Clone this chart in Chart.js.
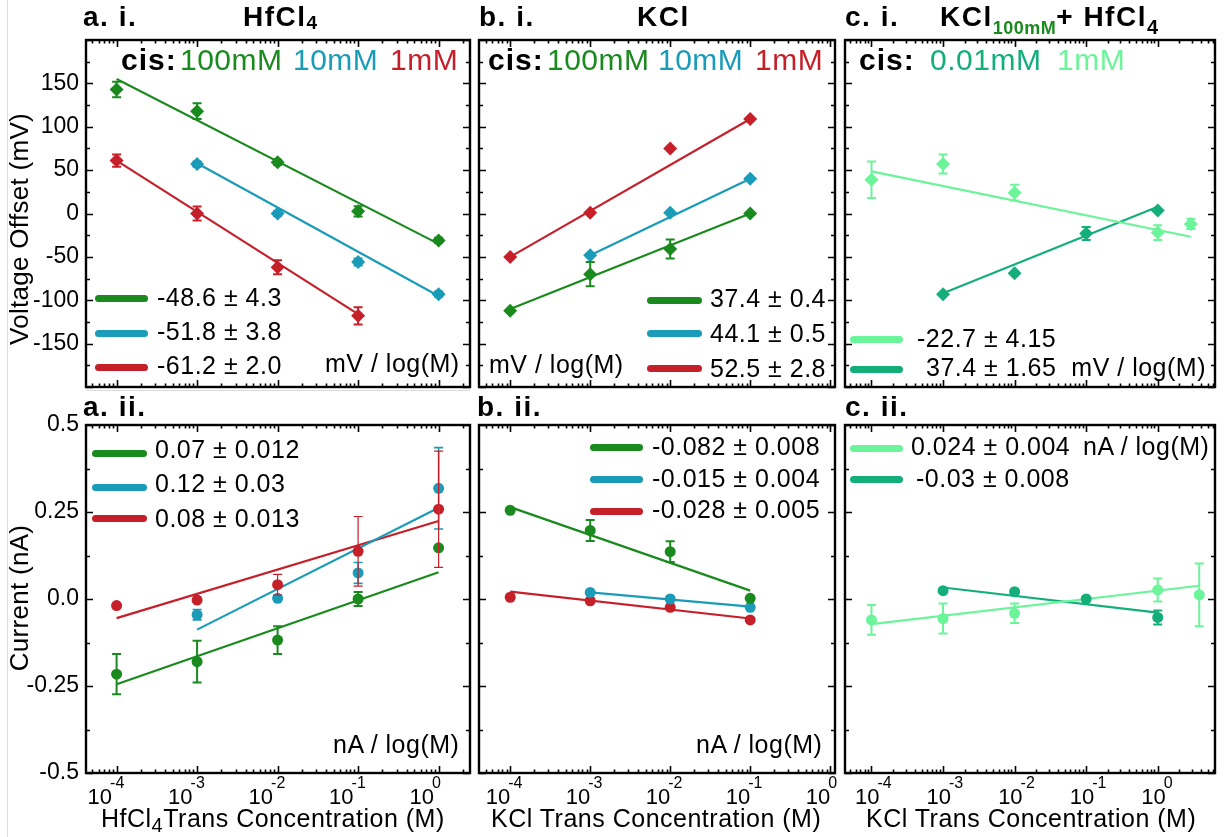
<!DOCTYPE html>
<html><head><meta charset="utf-8">
<script src="https://cdn.jsdelivr.net/npm/chart.js@4.4.1/dist/chart.umd.min.js"></script>
<style>
html,body{margin:0;padding:0;background:#fff;}
#wrap{position:relative;width:1225px;height:837px;overflow:hidden;background:#fff;font-family:"Liberation Sans",Arial,Helvetica,sans-serif;color:#000;}
canvas{position:absolute;left:0;top:0;}
.t{position:absolute;white-space:pre;line-height:1;}
.lg{position:absolute;height:7px;border-radius:4px;}
.art{position:absolute;background:#dcdcdc;}
</style></head><body><div id="wrap"></div>
<script>
// ---------------- DATA ----------------
// tick labels
const xDecades = [1e-4, 1e-3, 1e-2, 1e-1, 1];
const vTicks = [-150, -100, -50, 0, 50, 100, 150];
const vTickLabels = ['-150', '-100', '-50', '0', '50', '100', '150'];
const iTicks = [-0.5, -0.25, 0, 0.25, 0.5];
const iTickLabels = ['-0.5', '-0.25', '0.0', '0.25', '0.5'];

// a.i  HfCl4 – voltage offset (mV)
const hfConc = [1e-4, 1e-3, 1e-2, 1e-1, 1];
const hfConc10 = [1e-3, 1e-2, 1e-1, 1];
const hfConc1 = [1e-4, 1e-3, 1e-2, 1e-1];
const hfV100 = [143, 118, 59, 2.5, -31];
const hfV100Err = [9, 9, 3, 6, 3];
const hfV10 = [57, 0, -56, -93];
const hfV10Err = [3, 3, 4, 3];
const hfV1 = [61, 0, -62, -118];
const hfV1Err = [7, 8, 8, 10];
const hfV100FitX = [1e-4, 1], hfV100Fit = [155, -35];
const hfV10FitX = [1e-3, 1], hfV10Fit = [58, -95];
const hfV1FitX = [1e-4, 1e-1], hfV1Fit = [61, -116];

// b.i  KCl – voltage offset (mV)
const kclConc = [1e-4, 1e-3, 1e-2, 1e-1];
const kclConc10 = [1e-3, 1e-2, 1e-1];
const kclV100 = [-112, -70, -41, 0];
const kclV100Err = [0, 14, 11, 0];
const kclV10 = [-48, 1, 40];
const kclV10Err = [0, 0, 0];
const kclV1 = [-50, 1, 75, 109];
const kclV1Err = [0, 0, 0, 0];
const kclV100FitX = [1e-4, 1e-1], kclV100Fit = [-110, 0];
const kclV10FitX = [1e-3, 1e-1], kclV10Fit = [-48, 40];
const kclV1FitX = [1e-4, 1e-1], kclV1Fit = [-50, 109];

// c.i  KCl(100mM) + HfCl4 – voltage offset (mV)
const mixConcA = [1e-4, 1e-3, 1e-2, 1, 2.9];
const mixConcB = [1e-3, 1e-2, 1e-1, 1];
const mixV1mM = [39, 57, 24, -22, -12];
const mixV1mMErr = [21, 11, 9, 8.5, 6];
const mixV001 = [-93, -69, -23, 3.5];
const mixV001Err = [0, 0, 7.5, 0];
const mixV1mMFitX = [1e-4, 2.9], mixV1mMFit = [48.6, -26.8];
const mixV001FitX = [1e-3, 1], mixV001Fit = [-92, 7.7];

// a.ii HfCl4 – current (nA)
const hfI100 = [-0.216, -0.18, -0.118, 0.0, 0.147];
const hfI100Err = [0.058, 0.06, 0.04, 0.02, 0];
const hfI10 = [-0.045, 0.002, 0.075, 0.318];
const hfI10Err = [0.015, 0.005, 0.03, 0.117];
const hfI1 = [-0.019, -0.003, 0.041, 0.137, 0.258];
const hfI1Err = [0, 0, 0.03, 0.1, 0.167];
const hfI100FitX = [1e-4, 1], hfI100Fit = [-0.245, 0.077];
const hfI10FitX = [1e-3, 1], hfI10Fit = [-0.088, 0.262];
const hfI1FitX = [1e-4, 1], hfI1Fit = [-0.055, 0.224];

// b.ii KCl – current (nA)
const kclI100 = [0.255, 0.197, 0.136, 0.002];
const kclI100Err = [0, 0.03, 0.03, 0];
const kclI10 = [0.019, 0, -0.024];
const kclI10Err = [0, 0, 0];
const kclI1 = [0.005, -0.005, -0.024, -0.06];
const kclI1Err = [0, 0, 0, 0];
const kclI100FitX = [1e-4, 1e-1], kclI100Fit = [0.264, 0.024];
const kclI10FitX = [1e-3, 1e-1], kclI10Fit = [0.019, -0.022];
const kclI1FitX = [1e-4, 1e-1], kclI1Fit = [0.021, -0.056];

// c.ii KCl(100mM) + HfCl4 – current (nA)
const mixConcA2 = [1e-4, 1e-3, 1e-2, 1, 3.8];
const mixI1mM = [-0.06, -0.056, -0.041, 0.026, 0.012];
const mixI1mMErr = [0.043, 0.043, 0.028, 0.033, 0.09];
const mixI001 = [0.024, 0.021, 0, -0.053];
const mixI001Err = [0, 0, 0, 0.02];
const mixI1mMFitX = [1e-4, 3.8], mixI1mMFit = [-0.072, 0.038];
const mixI001FitX = [1e-3, 1], mixI001Fit = [0.033, -0.039];

// legend texts
const slopesHfV = ['-48.6 ± 4.3', '-51.8 ± 3.8', '-61.2 ± 2.0'];
const slopesKclV = ['37.4 ± 0.4', '44.1 ± 0.5', '52.5 ± 2.8'];
const slopesMixV = ['-22.7 ± 4.15', '37.4 ± 1.65  mV / log(M)'];
const slopesHfI = ['0.07 ± 0.012', '0.12 ± 0.03', '0.08 ± 0.013'];
const slopesKclI = ['-0.082 ± 0.008', '-0.015 ± 0.004', '-0.028 ± 0.005'];
const slopesMixI = ['0.024 ± 0.004', '-0.03 ± 0.008'];

// ---------------- STYLE / LAYOUT ----------------
const G = '#1a8a1e', C = '#1a9bb8', R = '#c5202a', LG = '#6cf49a', DG = '#14ae7b';
const W = 1225, H = 837;
const COLS = { a: [86, 470], b: [479, 835], c: [845, 1215] };
const ROWS = { top: [40, 387], bot: [425, 773] };
const XR = { a: [-4.38, 0.39], b: [-4.39, 0.06], c: [-4.37, 0.80] };
const XLABEL_SHIFT = { a: -4.5, b: 0, c: 8 };
const FONT = '"Liberation Sans", Arial, Helvetica, sans-serif';
const wrap = document.getElementById('wrap');

function T(html, x, base, size, opt = {}) {
  const d = document.createElement('div');
  d.className = 't';
  d.style.fontSize = size + 'px';
  d.style.left = x + 'px';
  d.style.top = (base - 0.8465 * size) + 'px';
  if (opt.bold) d.style.fontWeight = 'bold';
  if (opt.color) d.style.color = opt.color;
  if (opt.ls !== undefined) d.style.letterSpacing = opt.ls + 'px';
  if (opt.align === 'center') d.style.transform = 'translateX(-50%)';
  else if (opt.align === 'right') d.style.transform = 'translateX(-100%)';
  d.innerHTML = html;
  wrap.appendChild(d);
  return d;
}
function TV(html, baseX, centerY, size, ls) {
  const d = document.createElement('div');
  d.className = 't';
  d.style.fontSize = size + 'px';
  d.style.letterSpacing = (ls || 0) + 'px';
  d.style.left = baseX + 'px';
  d.style.top = centerY + 'px';
  d.style.transformOrigin = '0 0';
  d.style.transform = 'rotate(-90deg) translate(-50%, -' + (0.8465 * size) + 'px)';
  d.innerHTML = html;
  wrap.appendChild(d);
}
function legLine(x1, x2, cy, color) {
  const d = document.createElement('div');
  d.className = 'lg';
  d.style.left = x1 + 'px'; d.style.width = (x2 - x1) + 'px';
  d.style.top = (cy - 3.5) + 'px'; d.style.background = color;
  wrap.appendChild(d);
}

// plugin: error bars
const errorBars = {
  id: 'errorBars',
  afterDatasetsDraw(chart) {
    const ctx = chart.ctx, xs = chart.scales.x, ys = chart.scales.y;
    ctx.save();
    chart.data.datasets.forEach(ds => {
      if (!ds.errors) return;
      ctx.strokeStyle = ds.backgroundColor;
      ctx.lineWidth = ds.errW || 2;
      ds.data.forEach((p, i) => {
        const e = ds.errors[i];
        if (!e) return;
        const px = xs.getPixelForValue(p.x);
        const y1 = ys.getPixelForValue(p.y + e), y2 = ys.getPixelForValue(p.y - e);
        const cw = 4.5;
        ctx.beginPath();
        ctx.moveTo(px, y1); ctx.lineTo(px, y2);
        ctx.moveTo(px - cw, y1); ctx.lineTo(px + cw, y1);
        ctx.moveTo(px - cw, y2); ctx.lineTo(px + cw, y2);
        ctx.stroke();
      });
    });
    ctx.restore();
  }
};

// plugin: frame + inward ticks on all four sides
const frameTicks = {
  id: 'frameTicks',
  afterDraw(chart, args, o) {
    const ctx = chart.ctx, a = chart.chartArea, xs = chart.scales.x, ys = chart.scales.y;
    ctx.save();
    ctx.strokeStyle = '#000';
    ctx.lineWidth = 1.6;
    ctx.beginPath();
    const lo = Math.floor(Math.log10(xs.min)), hi = Math.ceil(Math.log10(xs.max));
    for (let d = lo; d <= hi; d++) {
      for (let m = 1; m <= 9; m++) {
        const v = m * Math.pow(10, d);
        if (v < xs.min || v > xs.max) continue;
        const px = Math.round(xs.getPixelForValue(v)) + 0.5;
        const len = m === 1 ? 7 : 3.5;
        ctx.moveTo(px, a.bottom); ctx.lineTo(px, a.bottom - len);
        ctx.moveTo(px, a.top); ctx.lineTo(px, a.top + len);
      }
    }
    const n = Math.round((ys.max - ys.min) / o.minor);
    for (let k = 0; k <= n; k++) {
      const v = ys.min + k * o.minor;
      const major = Math.abs(v / o.major - Math.round(v / o.major)) < 1e-6;
      const py = Math.round(ys.getPixelForValue(v)) + 0.5;
      const len = major ? 7 : 4;
      ctx.moveTo(a.left, py); ctx.lineTo(a.left + len, py);
      ctx.moveTo(a.right, py); ctx.lineTo(a.right - len, py);
    }
    ctx.stroke();
    ctx.lineWidth = 2.4;
    ctx.strokeRect(a.left, a.top, a.right - a.left, a.bottom - a.top);
    ctx.restore();
  }
};

function panel(col, row, kind, series, showY) {
  const cv = document.createElement('canvas');
  cv.width = W; cv.height = H;
  wrap.appendChild(cv);
  const [l, r] = COLS[col], [t, b] = ROWS[row];
  const volt = kind === 'v';
  const datasets = [];
  series.forEach(s => {
    datasets.push({
      data: s.fx.map((x, i) => ({ x, y: s.fy[i] })),
      showLine: true, borderColor: s.color, borderWidth: 2.2,
      pointRadius: 0, order: 2
    });
    datasets.push({
      data: s.x.map((x, i) => ({ x, y: s.y[i] })),
      showLine: false, pointStyle: volt ? 'rectRot' : 'circle',
      pointRadius: volt ? 7 : 5.5, backgroundColor: s.color, borderColor: s.color,
      borderWidth: 0, errors: s.err, errW: s.errW, order: 1
    });
  });
  const ticksV = volt ? vTicks : iTicks, ticksL = volt ? vTickLabels : iTickLabels;
  const chart = new Chart(cv, {
    type: 'scatter',
    data: { datasets },
    options: {
      responsive: false, animation: false, events: [],
      layout: { padding: { left: 0, top: t, right: W - r, bottom: H - b } },
      plugins: {
        legend: { display: false }, tooltip: { enabled: false },
        frameTicks: volt ? { major: 50, minor: 25 } : { major: 0.25, minor: 0.125 }
      },
      scales: {
        x: {
          type: 'logarithmic', min: Math.pow(10, XR[col][0]), max: Math.pow(10, XR[col][1]),
          grid: { display: false }, border: { display: false },
          ticks: { display: false },
          afterFit: s => { s.height = 0; }
        },
        y: {
          type: 'linear', min: volt ? -200 : -0.5, max: volt ? 200 : 0.5,
          grid: { display: false, drawTicks: false }, border: { display: false },
          afterBuildTicks: s => { s.ticks = ticksV.map(v => ({ value: v })); },
          ticks: {
            display: showY, autoSkip: false, padding: 7, color: '#000',
            font: { family: FONT, size: 23 },
            callback: (v) => { const i = ticksV.indexOf(v); return i >= 0 ? ticksL[i] : ''; }
          },
          afterFit: s => { s.width = l; }
        }
      }
    },
    plugins: [errorBars, frameTicks]
  });
  if (row === 'bot') {
    xDecades.forEach(v => {
      if (v < chart.scales.x.min || v > chart.scales.x.max) return;
      const px = chart.scales.x.getPixelForValue(v) + XLABEL_SHIFT[col];
      const ex = Math.round(Math.log10(v));
      T('10', px, 805, 22, { align: 'right' });
      T(String(ex), px - 2, 789, 16);
    });
  }
  return chart;
}

// ---------------- PANELS ----------------
panel('a', 'top', 'v', [
  { x: hfConc, y: hfV100, err: hfV100Err, fx: hfV100FitX, fy: hfV100Fit, color: G },
  { x: hfConc10, y: hfV10, err: hfV10Err, fx: hfV10FitX, fy: hfV10Fit, color: C },
  { x: hfConc1, y: hfV1, err: hfV1Err, fx: hfV1FitX, fy: hfV1Fit, color: R }
], true);
panel('b', 'top', 'v', [
  { x: kclConc, y: kclV100, err: kclV100Err, fx: kclV100FitX, fy: kclV100Fit, color: G },
  { x: kclConc10, y: kclV10, err: kclV10Err, fx: kclV10FitX, fy: kclV10Fit, color: C },
  { x: kclConc, y: kclV1, err: kclV1Err, fx: kclV1FitX, fy: kclV1Fit, color: R }
], false);
panel('c', 'top', 'v', [
  { x: mixConcA, y: mixV1mM, err: mixV1mMErr, fx: mixV1mMFitX, fy: mixV1mMFit, color: LG },
  { x: mixConcB, y: mixV001, err: mixV001Err, fx: mixV001FitX, fy: mixV001Fit, color: DG }
], false);
panel('a', 'bot', 'i', [
  { x: hfConc, y: hfI100, err: hfI100Err, fx: hfI100FitX, fy: hfI100Fit, color: G },
  { x: hfConc10, y: hfI10, err: hfI10Err, fx: hfI10FitX, fy: hfI10Fit, color: C, errW: 1.6 },
  { x: hfConc, y: hfI1, err: hfI1Err, fx: hfI1FitX, fy: hfI1Fit, color: R, errW: 1.2 }
], true);
panel('b', 'bot', 'i', [
  { x: kclConc, y: kclI100, err: kclI100Err, fx: kclI100FitX, fy: kclI100Fit, color: G },
  { x: kclConc10, y: kclI10, err: kclI10Err, fx: kclI10FitX, fy: kclI10Fit, color: C },
  { x: kclConc, y: kclI1, err: kclI1Err, fx: kclI1FitX, fy: kclI1Fit, color: R }
], false);
panel('c', 'bot', 'i', [
  { x: mixConcA2, y: mixI1mM, err: mixI1mMErr, fx: mixI1mMFitX, fy: mixI1mMFit, color: LG },
  { x: mixConcB, y: mixI001, err: mixI001Err, fx: mixI001FitX, fy: mixI001Fit, color: DG }
], false);

// ---------------- TEXT ----------------
(function () {
  const a = document.createElement('div'); a.className = 'art';
  a.style.left = '7px'; a.style.top = '0px'; a.style.width = '1px'; a.style.height = '837px';
  wrap.appendChild(a);
  const b = document.createElement('div'); b.className = 'art';
  b.style.left = '86px'; b.style.top = '390px'; b.style.width = '384px'; b.style.height = '1px';
  wrap.appendChild(b);
})();

// panel titles
const TS = 28, TLS = 1.5;
T('a. i.', 83, 27, TS, { bold: true, ls: TLS });
T('HfCl<span style="font-size:19px;position:relative;top:3px">4</span>', 243, 27, TS, { bold: true, ls: TLS });
T('b. i.', 479, 27, TS, { bold: true, ls: TLS });
T('KCl', 637, 27, TS, { bold: true, ls: TLS });
T('c. i.', 845, 27, TS, { bold: true, ls: TLS });
T('KCl<span style="font-size:18px;position:relative;top:8px;letter-spacing:0.5px;color:' + G + '">100mM</span>+ HfCl<span style="font-size:20px;position:relative;top:8px">4</span>', 940, 27, TS, { bold: true, ls: TLS });
T('a. ii.', 83, 417, TS, { bold: true, ls: TLS });
T('b. ii.', 477, 417, TS, { bold: true, ls: TLS });
T('c. ii.', 845, 417, TS, { bold: true, ls: TLS });

// axis titles
TV('Voltage Offset (mV)', 28, 229, 26, 0.3);
TV('Current (nA)', 28, 598, 26, 0.3);
T('HfCl<span style="font-size:20px;position:relative;top:5px">4</span>Trans Concentration (M)', 101, 827, 25, { ls: 0.5 });
T('KCl Trans Concentration (M)', 491, 827, 25, { ls: 0.5 });
T('KCl Trans Concentration (M)', 866, 827, 25, { ls: 0.5 });

// cis lines
T('cis:', 121, 70, 30, { bold: true, ls: 1 });
T('100mM', 180, 70, 30, { color: G, ls: 0.5 });
T('10mM', 293, 70, 30, { color: C, ls: 0.5 });
T('1mM', 390, 70, 30, { color: R, ls: 0.5 });
T('cis:', 488, 70, 30, { bold: true, ls: 1 });
T('100mM', 547, 70, 30, { color: G, ls: 0.5 });
T('10mM', 658, 70, 30, { color: C, ls: 0.5 });
T('1mM', 755, 70, 30, { color: R, ls: 0.5 });
T('cis:', 859, 70, 30, { bold: true, ls: 1 });
T('0.01mM', 930, 70, 30, { color: DG, ls: 0.5 });
T('1mM', 1057, 70, 30, { color: LG, ls: 0.5 });

const LS = 0.5, FS = 25;
// legends a.i
[G, C, R].forEach((c, i) => legLine(95, 148, [298, 333, 367][i], c));
slopesHfV.forEach((s, i) => T(s, 157, [306, 340, 374][i], FS, { ls: LS }));
T('mV / log(M)', 325, 372, FS, { ls: LS });
// legends b.i
[G, C, R].forEach((c, i) => legLine(647, 702, [300, 333, 368][i], c));
slopesKclV.forEach((s, i) => T(s, 710, [307, 342, 377][i], FS, { ls: LS }));
T('mV / log(M)', 489, 373, FS, { ls: LS });
// legends c.i
[LG, DG].forEach((c, i) => legLine(850, 903, [339, 369][i], c));
T(slopesMixV[0], 917, 347, FS, { ls: LS });
T(slopesMixV[1], 926, 376, FS, { ls: LS });
// legends a.ii
[G, C, R].forEach((c, i) => legLine(92, 147, [453, 487, 518][i], c));
slopesHfI.forEach((s, i) => T(s, 155, [458, 492, 527][i], FS, { ls: LS }));
T('nA / log(M)', 333, 753, FS, { ls: LS });
// legends b.ii
[G, C, R].forEach((c, i) => legLine(590, 643, [447, 479, 511][i], c));
slopesKclI.forEach((s, i) => T(s, 652, [455, 487, 518][i], FS, { ls: LS }));
T('nA / log(M)', 696, 753, FS, { ls: LS });
// legends c.ii
[LG, DG].forEach((c, i) => legLine(850, 903, [448, 479][i], c));
T(slopesMixI[0], 911, 455, FS, { ls: LS });
T('nA / log(M)', 1083, 455, FS, { ls: LS });
T(slopesMixI[1], 916, 487, FS, { ls: LS });
</script></body></html>
